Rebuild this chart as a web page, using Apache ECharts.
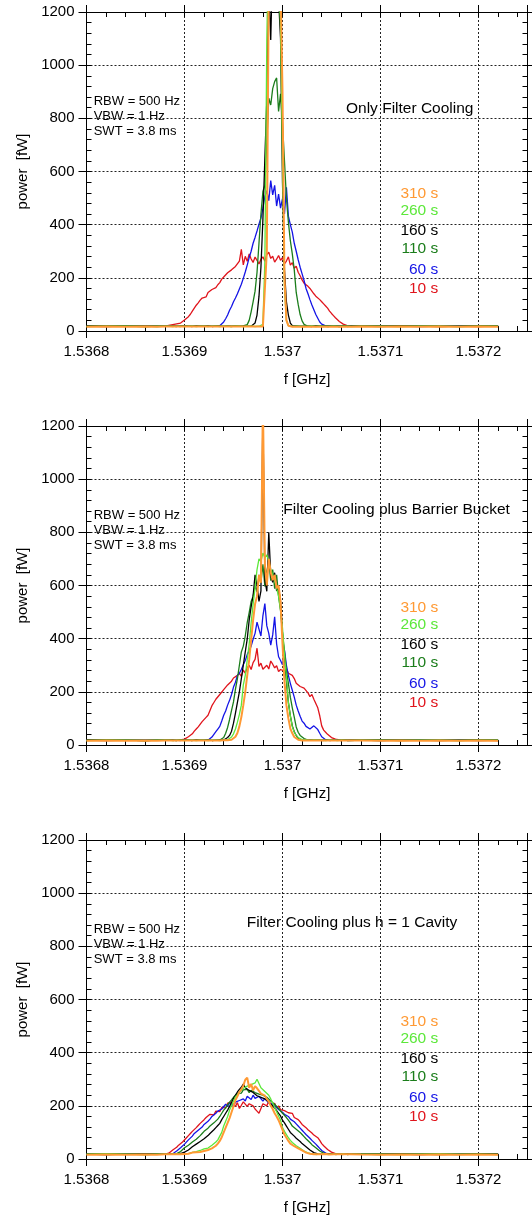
<!DOCTYPE html>
<html>
<head>
<meta charset="utf-8">
<script src="https://cdn.jsdelivr.net/npm/echarts@6/dist/echarts.min.js"></script>
<style>
html, body { margin: 0; padding: 0; background: #fff; }
#main { width: 532px; height: 1216px; }
</style>
</head>
<body>
<div id="main"></div>
<script>
// 频率偏移 (kHz), 相对 1.5368 GHz
var F0_KHZ = 1536800;
var freqKHz = [0, 20, 40, 60, 72,
  80, 82, 84, 86, 88, 90, 92, 94, 96, 98,
  100, 102, 104, 106, 108, 110, 112, 114, 116, 118,
  120, 122, 124, 126, 128, 130, 132, 134, 136, 138,
  140, 142, 144, 146, 148, 150, 152, 154, 156, 158,
  160, 162, 164, 166, 168, 170, 172, 174, 176, 178,
  180, 182, 184, 186, 188, 190, 192, 194, 196, 198,
  200, 202, 204, 206, 208, 210, 212, 214, 216, 218,
  220, 222, 224, 226, 228, 230, 232, 234, 236, 238,
  240, 242, 244, 246, 248, 250, 252, 254, 256, 258,
  260, 262, 264, 266, 268, 270,
  280, 300, 320, 340, 360, 380, 400, 420];

// 第一幅: Only Filter Cooling
var p1Red = [18, 19, 18, 20, 19,
  18, 19, 21, 20, 24, 26, 27, 31, 30, 35,
  41, 47, 54, 63, 75, 86, 97, 106, 116, 124,
  131, 128, 145, 140, 156, 150, 163, 174, 182, 195,
  203, 198, 219, 212, 230, 226, 243, 238, 263, 307,
  249, 281, 262, 290, 271, 258, 278, 266, 252, 270,
  279, 262, 288, 296, 273, 281, 259, 270, 284, 266,
  276, 252, 263, 279, 248, 257, 236, 244, 221, 208,
  192, 180, 174, 168, 160, 150, 140, 131, 124, 118,
  110, 102, 94, 86, 75, 66, 58, 50, 43, 36,
  30, 26, 22, 20, 19, 18,
  19, 18, 20, 18, 19, 18, 17, 19];
var p1Blue = [18, 17, 19, 18, 18,
  18, 17, 19, 18, 18, 17, 19, 18, 18, 19,
  18, 19, 18, 17, 18, 19, 18, 18, 19, 18,
  18, 19, 18, 17, 19, 18, 19, 18, 20, 24,
  34, 46, 60, 78, 92, 110, 124, 140, 158, 176,
  198, 222, 248, 276, 300, 330, 352, 376, 402, 425,
  462, 505, 528, 490, 566, 512, 548, 470, 515, 462,
  498, 440, 541, 432, 400, 372, 330, 300, 268, 240,
  215, 190, 160, 140, 118, 98, 80, 62, 48, 34,
  26, 22, 19, 18, 19, 18, 17, 18, 19, 18,
  18, 17, 18, 19, 18, 18,
  18, 19, 18, 17, 18, 19, 18, 18];
var p1Green = [18, 18, 19, 18, 17,
  18, 19, 18, 17, 18, 19, 18, 18, 17, 18,
  19, 18, 18, 17, 18, 19, 18, 17, 18, 19,
  18, 18, 19, 18, 17, 18, 19, 18, 18, 17,
  18, 19, 18, 18, 17, 18, 19, 18, 18, 19,
  19, 18, 24, 40, 72, 110, 150, 220, 330, 440,
  525, 548, 712, 876, 850, 912, 938, 952, 826, 892,
  780, 640, 500, 410, 340, 290, 230, 145, 100, 62,
  38, 25, 20, 18, 19, 18, 17, 18, 19, 18,
  18, 17, 18, 19, 18, 18, 17, 18, 19, 18,
  18, 19, 18, 17, 18, 18,
  18, 17, 19, 18, 18, 17, 19, 18];
var p1Black = [19, 18, 18, 17, 18,
  18, 17, 18, 19, 18, 18, 17, 18, 19, 18,
  18, 19, 18, 18, 17, 18, 19, 18, 18, 17,
  18, 18, 19, 18, 17, 18, 18, 19, 18, 18,
  17, 18, 19, 18, 18, 17, 18, 19, 18, 18,
  18, 17, 18, 19, 18, 19, 30, 60, 130, 240,
  420, 650, 870, 1300, 1095, 1400, 1400, 1400, 1400, 1100,
  560, 230, 110, 60, 30, 20, 18, 19, 18, 18,
  17, 18, 19, 18, 18, 17, 18, 19, 18, 18,
  18, 19, 18, 17, 18, 18, 19, 18, 18, 17,
  18, 18, 19, 18, 17, 18,
  18, 19, 18, 18, 17, 18, 19, 18];
var p1Light = [17, 18, 18, 17, 18,
  18, 17, 18, 18, 17, 18, 18, 17, 18, 18,
  17, 18, 18, 17, 18, 18, 17, 18, 18, 17,
  18, 18, 17, 18, 18, 17, 18, 18, 17, 18,
  18, 17, 18, 18, 17, 18, 18, 17, 18, 18,
  17, 18, 18, 17, 18, 18, 17, 18, 18, 20,
  25, 260, 1095, 1500, 1500, 1500, 1500, 1500, 1500, 1150,
  650, 160, 40, 20, 18, 17, 18, 18, 17, 18,
  18, 17, 18, 18, 17, 18, 18, 17, 18, 18,
  17, 18, 18, 17, 18, 18, 17, 18, 18, 17,
  18, 18, 17, 18, 18, 17,
  18, 18, 17, 18, 18, 17, 18, 18];
var p1Orange = [16, 17, 16, 17, 16,
  17, 16, 17, 16, 17, 16, 17, 16, 17, 16,
  17, 16, 17, 16, 17, 16, 17, 16, 17, 16,
  17, 16, 17, 16, 17, 16, 17, 16, 17, 16,
  17, 16, 17, 16, 17, 16, 17, 16, 17, 16,
  17, 16, 17, 16, 17, 16, 17, 16, 17, 16,
  17, 22, 300, 1300, 1300, 1300, 1300, 1300, 1300, 1300,
  900, 200, 40, 20, 17, 16, 17, 16, 17, 16,
  17, 16, 17, 16, 17, 16, 17, 16, 17, 16,
  17, 16, 17, 16, 17, 16, 17, 16, 17, 16,
  17, 16, 17, 16, 17, 16,
  17, 16, 17, 16, 17, 16, 17, 16];

// 第二幅: Filter Cooling plus Barrier Bucket
var p2Red = [18, 19, 18, 17, 18,
  18, 17, 19, 18, 17, 19, 18, 18, 19, 20,
  22, 26, 31, 36, 42, 52, 60, 68, 74, 88,
  95, 104, 112, 130, 148, 160, 172, 178, 190, 196,
  208, 214, 226, 233, 240, 252, 246, 262, 270, 258,
  282, 270, 291, 300, 284, 310, 322, 364, 296, 308,
  285, 278, 300, 286, 316, 304, 290, 298, 276, 284,
  290, 278, 287, 270, 275, 262, 250, 232, 238, 220,
  226, 214, 218, 196, 182, 190, 172, 166, 140, 110,
  72, 56, 48, 40, 34, 28, 24, 22, 20, 19,
  18, 19, 18, 17, 18, 18,
  18, 19, 17, 18, 19, 18, 18, 17];
var p2Blue = [18, 17, 18, 19, 18,
  18, 19, 18, 17, 18, 19, 18, 18, 17, 18,
  19, 18, 18, 19, 18, 17, 18, 19, 18, 18,
  18, 19, 18, 22, 30, 40, 50, 60, 70, 90,
  112, 128, 150, 168, 190, 218, 236, 262, 270, 284,
  302, 318, 340, 356, 372, 398, 420, 462, 436, 410,
  486, 532, 448, 420, 376, 414, 482, 380, 332, 318,
  302, 358, 300, 262, 232, 206, 180, 150, 128, 108,
  90, 82, 70, 66, 60, 56, 72, 76, 58, 44,
  31, 24, 20, 19, 18, 19, 18, 17, 18, 18,
  18, 19, 18, 18, 17, 18,
  18, 17, 18, 19, 18, 18, 17, 18];
var p2Green = [18, 19, 18, 17, 18,
  18, 17, 18, 19, 18, 18, 17, 18, 19, 18,
  18, 19, 18, 18, 17, 18, 19, 18, 18, 17,
  18, 18, 19, 18, 17, 18, 18, 19, 19, 22,
  28, 44, 66, 96, 130, 162, 210, 250, 300, 350,
  372, 410, 460, 498, 540, 560, 600, 575, 640, 610,
  680, 596, 652, 690, 618, 660, 588, 640, 560, 505,
  420, 352, 280, 232, 180, 140, 105, 68, 48, 36,
  30, 24, 20, 18, 19, 18, 17, 18, 19, 18,
  18, 17, 18, 19, 18, 18, 17, 18, 19, 18,
  18, 19, 18, 17, 18, 18,
  18, 17, 19, 18, 18, 17, 19, 18];
var p2Black = [19, 18, 18, 17, 18,
  18, 17, 18, 19, 18, 18, 17, 18, 19, 18,
  18, 19, 18, 18, 17, 18, 19, 18, 18, 17,
  18, 18, 19, 18, 17, 18, 18, 19, 18, 18,
  19, 22, 28, 36, 52, 82, 120, 160, 200, 250,
  300, 350, 398, 470, 520, 560, 640, 600, 540, 580,
  1250, 620, 578, 800, 640, 612, 648, 580, 590, 540,
  420, 330, 240, 160, 110, 72, 50, 36, 24, 20,
  18, 19, 18, 17, 18, 18, 19, 18, 18, 17,
  18, 18, 19, 18, 17, 18, 18, 19, 18, 18,
  17, 18, 19, 18, 18, 17,
  18, 19, 18, 18, 17, 18, 19, 18];
var p2Light = [17, 18, 18, 17, 18,
  18, 17, 18, 18, 17, 18, 18, 17, 18, 18,
  17, 18, 18, 17, 18, 18, 17, 18, 18, 17,
  18, 18, 17, 18, 18, 17, 18, 18, 17, 18,
  18, 19, 20, 24, 30, 42, 60, 86, 115, 150,
  225, 262, 320, 380, 460, 530, 590, 660, 700, 690,
  722, 705, 715, 690, 660, 640, 620, 590, 560, 510,
  440, 340, 255, 160, 110, 70, 48, 36, 28, 22,
  20, 18, 19, 18, 17, 18, 19, 18, 18, 17,
  18, 18, 17, 18, 18, 17, 18, 18, 17, 18,
  18, 17, 18, 18, 17, 18,
  18, 18, 17, 18, 18, 17, 18, 18];
var p2Orange = [16, 17, 16, 17, 16,
  17, 16, 17, 16, 17, 16, 17, 16, 17, 16,
  17, 16, 17, 16, 17, 16, 17, 16, 17, 16,
  17, 16, 17, 16, 17, 16, 17, 16, 17, 16,
  18, 17, 18, 19, 20, 24, 31, 45, 70, 105,
  150, 200, 262, 320, 395, 470, 530, 560, 640, 610,
  1300, 680, 600, 700, 650, 620, 640, 590, 600, 540,
  380, 240, 150, 100, 62, 44, 30, 24, 20, 18,
  17, 16, 17, 16, 17, 16, 17, 16, 17, 16,
  17, 16, 17, 16, 17, 16, 17, 16, 17, 16,
  17, 16, 17, 16, 17, 16,
  17, 16, 17, 16, 17, 16, 17, 16];

// 第三幅: Filter Cooling plus h = 1 Cavity
var p3Red = [18, 19, 18, 20, 18,
  18, 20, 22, 28, 34, 38, 44, 52, 56, 64,
  70, 80, 88, 96, 104, 110, 118, 126, 134, 128,
  148, 156, 150, 168, 172, 166, 180, 186, 178, 194,
  200, 192, 210, 204, 214, 206, 198, 212, 190, 202,
  215, 222, 198, 208, 212, 200, 188, 180, 172, 190,
  208, 214, 200, 218, 206, 196, 210, 192, 200, 186,
  190, 182, 186, 174, 168, 172, 156, 160, 148, 140,
  130, 134, 118, 110, 104, 98, 90, 86, 80, 70,
  58, 50, 44, 36, 32, 26, 22, 20, 19, 18,
  18, 19, 18, 17, 18, 18,
  19, 18, 18, 17, 19, 18, 18, 19];
var p3Blue = [18, 17, 19, 18, 18,
  18, 17, 19, 18, 20, 24, 30, 36, 42, 46,
  56, 62, 72, 76, 86, 96, 100, 108, 114, 120,
  130, 136, 142, 150, 160, 156, 172, 180, 176, 188,
  194, 206, 198, 212, 206, 200, 214, 208, 220, 215,
  226, 218, 236, 230, 224, 240, 228, 222, 236, 230,
  218, 228, 222, 210, 216, 206, 200, 194, 186, 180,
  176, 168, 166, 160, 150, 146, 140, 132, 124, 116,
  108, 100, 92, 86, 78, 70, 64, 56, 48, 40,
  32, 26, 22, 20, 18, 19, 18, 17, 18, 18,
  18, 17, 18, 19, 18, 18,
  18, 19, 18, 17, 18, 19, 18, 18];
var p3Green = [18, 19, 18, 17, 18,
  18, 19, 18, 17, 18, 19, 20, 24, 28, 34,
  42, 46, 52, 58, 64, 70, 74, 80, 88, 96,
  104, 110, 116, 124, 130, 136, 142, 150, 160, 172,
  184, 192, 204, 214, 222, 232, 238, 246, 252, 248,
  260, 254, 262, 250, 258, 264, 250, 256, 244, 248,
  240, 236, 232, 226, 218, 214, 206, 198, 190, 184,
  172, 166, 156, 146, 136, 124, 118, 112, 106, 100,
  92, 84, 76, 70, 62, 54, 48, 42, 36, 30,
  26, 22, 20, 19, 18, 19, 18, 17, 18, 18,
  18, 17, 18, 19, 18, 18,
  18, 17, 19, 18, 18, 17, 19, 18];
var p3Black = [18, 17, 18, 19, 18,
  18, 17, 18, 19, 18, 17, 18, 19, 20, 22,
  26, 30, 34, 40, 46, 50, 56, 62, 66, 72,
  76, 82, 88, 96, 102, 110, 118, 126, 134, 148,
  160, 172, 184, 198, 212, 228, 240, 252, 262, 270,
  282, 268, 274, 258, 262, 250, 246, 238, 244, 232,
  230, 226, 220, 214, 208, 200, 192, 182, 172, 162,
  146, 136, 124, 112, 100, 94, 86, 78, 72, 66,
  58, 52, 46, 40, 34, 28, 24, 21, 19, 18,
  18, 17, 18, 19, 18, 17, 18, 18, 19, 18,
  18, 17, 18, 19, 18, 18,
  18, 19, 18, 18, 17, 18, 19, 18];
var p3Light = [18, 19, 18, 17, 18,
  18, 19, 18, 17, 18, 18, 19, 18, 17, 18,
  19, 21, 20, 24, 25, 29, 28, 33, 32, 37,
  38, 42, 41, 48, 52, 55, 64, 72, 86, 100,
  124, 142, 160, 184, 200, 218, 234, 242, 252, 258,
  266, 262, 274, 270, 280, 276, 286, 300, 284, 268,
  262, 254, 248, 240, 226, 210, 194, 178, 162, 146,
  118, 104, 92, 80, 70, 62, 56, 50, 44, 40,
  34, 30, 26, 23, 21, 19, 18, 17, 18, 18,
  18, 19, 18, 17, 18, 18, 19, 18, 17, 18,
  18, 19, 18, 17, 18, 18,
  18, 18, 17, 18, 19, 18, 18, 17];
var p3Orange = [16, 17, 16, 17, 16,
  18, 17, 18, 19, 18, 17, 18, 19, 18, 18,
  19, 21, 20, 22, 24, 23, 25, 27, 26, 29,
  30, 32, 34, 36, 40, 44, 50, 58, 68, 82,
  100, 118, 136, 154, 176, 198, 222, 236, 252, 262,
  276, 298, 306, 268, 282, 258, 274, 266, 256, 246,
  250, 238, 226, 216, 200, 188, 172, 160, 146, 128,
  110, 92, 80, 68, 58, 52, 48, 44, 40, 36,
  32, 28, 24, 22, 20, 19, 18, 19, 18, 17,
  18, 18, 19, 18, 17, 18, 18, 19, 18, 17,
  18, 19, 18, 17, 18, 18,
  17, 16, 17, 16, 17, 16, 17, 16];

// 每条曲线的时间标签与颜色 (画线顺序)
var seriesNames = ['10 s', '60 s', '110 s', '160 s', '260 s', '310 s'];
var seriesColors = ['#e0141c', '#1414e6', '#1b7d1b', '#000000', '#5ce83a', '#ff9933'];
var panels = [
  [p1Red, p1Blue, p1Green, p1Black, p1Light, p1Orange],
  [p2Red, p2Blue, p2Green, p2Black, p2Light, p2Orange],
  [p3Red, p3Blue, p3Green, p3Black, p3Light, p3Orange]
];
var panelTitles = ['Only Filter Cooling', 'Filter Cooling plus Barrier Bucket', 'Filter Cooling plus h = 1 Cavity'];
var settingLines = ['RBW = 500 Hz', 'VBW = 1 Hz', 'SWT = 3.8 ms'];
// 图例文字 从上到下
var legendOrder = [5, 4, 3, 2, 1, 0];

var FONT = '"Liberation Sans", Arial, sans-serif';
var panelTop = [12, 426, 840];
var titleX = [346, 283.3, 246.7];
var titleDy = [97, 83.6, 82.7];
var legendDy = [182, 198.7, 218.7, 236.3, 257.3, 276.3];
var settingDy = [89, 104, 119];

function fmtGHz (v) {
  return String(+((F0_KHZ + v) / 1e6).toFixed(4));
}

// 只画刻度的辅助轴
function tickAxis (p, pos, interval, inside, len, isX) {
  return {
    type: 'value',
    gridIndex: p,
    position: pos,
    min: 0,
    max: isX ? 450 : 1200,
    interval: interval,
    axisLine: { show: true, onZero: false, lineStyle: { color: '#000', width: 1 } },
    axisTick: { show: true, inside: inside, length: len, lineStyle: { color: '#000', width: 1 } },
    axisLabel: { show: false },
    splitLine: { show: false }
  };
}

var grids = [], xAxes = [], yAxes = [], series = [], graphics = [];

panelTop.forEach(function (top, p) {
  grids.push({ left: 86.5, right: 4.5, top: top, height: 319, outerBoundsMode: 'none' });

  // x 轴: 主轴, 内侧小刻度, 顶部
  var xm = tickAxis(p, 'bottom', 100, false, 7, true);
  xm.axisLabel = { show: true, color: '#000', fontSize: 15, fontFamily: FONT, margin: 13, showMaxLabel: false, formatter: fmtGHz };
  xm.splitLine = { show: true, lineStyle: { color: '#222', width: 1, type: [2, 2] } };
  xm.name = 'f [GHz]';
  xm.nameLocation = 'middle';
  xm.nameGap = 41;
  xm.nameTextStyle = { color: '#000', fontSize: 15, fontFamily: FONT };
  xAxes.push(xm);
  xAxes.push(tickAxis(p, 'bottom', 20, true, 5, true));
  xAxes.push(tickAxis(p, 'top', 100, false, 7, true));
  xAxes.push(tickAxis(p, 'top', 20, true, 5, true));

  // y 轴
  var ym = tickAxis(p, 'left', 200, false, 8, false);
  ym.axisLabel = { show: true, color: '#000', fontSize: 15, fontFamily: FONT, margin: 12, formatter: function (v) { return String(v); } };
  ym.splitLine = { show: true, lineStyle: { color: '#222', width: 1, type: [2, 2] } };
  ym.name = 'power  [fW]';
  ym.nameLocation = 'middle';
  ym.nameGap = 53;
  ym.nameRotate = 90;
  ym.nameTextStyle = { color: '#000', fontSize: 15, fontFamily: FONT };
  yAxes.push(ym);
  yAxes.push(tickAxis(p, 'left', 40, true, 5, false));
  yAxes.push(tickAxis(p, 'right', 200, false, 5, false));
  yAxes.push(tickAxis(p, 'right', 40, true, 5, false));

  panels[p].forEach(function (vals, k) {
    series.push({
      type: 'line',
      name: seriesNames[k],
      xAxisIndex: p * 4,
      yAxisIndex: p * 4,
      data: freqKHz.map(function (f, i) { return [f, vals[i]]; }),
      showSymbol: false,
      symbol: 'none',
      clip: true,
      lineStyle: { color: seriesColors[k], width: k === 5 ? 2 : 1.3 },
      emphasis: { disabled: true }
    });
  });

  // 标注文字
  graphics.push({
    type: 'text', x: titleX[p], y: top + titleDy[p], silent: true,
    style: { text: panelTitles[p], fill: '#000', fontSize: 15.5, fontFamily: FONT, align: 'left', verticalAlign: 'middle' }
  });
  settingLines.forEach(function (s, j) {
    graphics.push({
      type: 'text', x: 93.7, y: top + settingDy[j], silent: true,
      style: { text: s, fill: '#000', fontSize: 13, fontFamily: FONT, align: 'left', verticalAlign: 'middle' }
    });
  });
  legendOrder.forEach(function (k, j) {
    graphics.push({
      type: 'text', x: 438.3, y: top + legendDy[j], silent: true,
      style: { text: seriesNames[k], fill: seriesColors[k], fontSize: 15.5, fontFamily: FONT, align: 'right', verticalAlign: 'middle' }
    });
  });
});

var myChart = echarts.init(document.getElementById('main'), null, { renderer: 'canvas' });
var option = {
  animation: false,
  backgroundColor: '#fff',
  grid: grids,
  xAxis: xAxes,
  yAxis: yAxes,
  series: series,
  graphic: graphics
};
myChart.setOption(option);
</script>
</body>
</html>
